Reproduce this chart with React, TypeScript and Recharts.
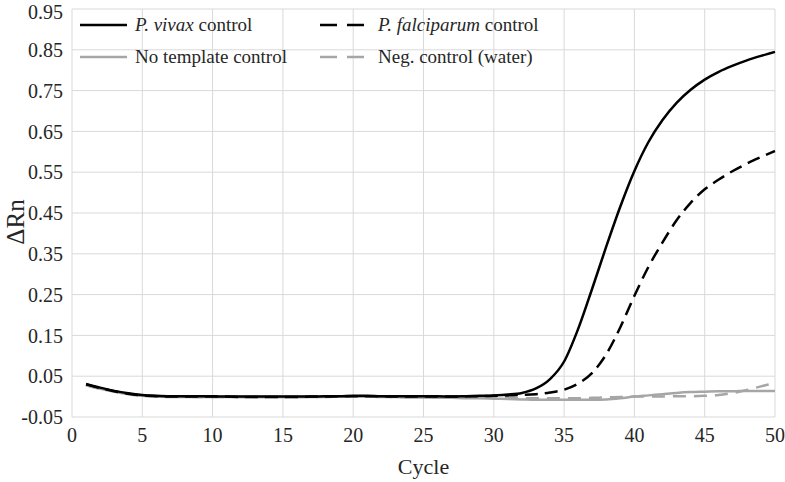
import { LineChart, Line, XAxis, YAxis, CartesianGrid, Legend } from 'recharts'

const cycles = [
  1, 2, 3, 4, 5, 6, 7, 8, 9, 10, 11, 12, 13, 14, 15, 16, 17, 18, 19, 20, 21, 22, 23, 24, 25,
  26, 27, 28, 29, 30, 31, 32, 33, 34, 35, 36, 37, 38, 39, 40, 41, 42, 43, 44, 45, 46, 47, 48, 49, 50,
]

const vivax = [
  0.031, 0.022, 0.014, 0.008, 0.004, 0.002, 0.001, 0.001, 0.001, 0.001, 0.0, 0.0, 0.0, 0.0, 0.0,
  0.0, 0.0, 0.001, 0.001, 0.002, 0.002, 0.001, 0.001, 0.001, 0.001, 0.001, 0.0, 0.001, 0.002, 0.003,
  0.005, 0.009, 0.02, 0.043, 0.086, 0.166, 0.265, 0.368, 0.466, 0.553, 0.624, 0.678, 0.72, 0.752, 0.777,
  0.796, 0.811, 0.824, 0.835, 0.845,
]

const falciparum = [
  0.03, 0.021, 0.013, 0.007, 0.003, 0.001, 0.0, 0.0, 0.0, 0.0, 0.0, -0.001, -0.001, -0.001, -0.001,
  -0.001, 0.0, 0.0, 0.001, 0.001, 0.001, 0.001, 0.0, 0.0, 0.0, 0.0, 0.0, 0.001, 0.001, 0.002,
  0.003, 0.004, 0.006, 0.01, 0.017, 0.032, 0.058, 0.104, 0.17, 0.247, 0.318, 0.378, 0.432, 0.475, 0.508,
  0.532, 0.553, 0.571, 0.587, 0.602,
]

const noTemplate = [
  0.028, 0.019, 0.012, 0.006, 0.002, 0.0, -0.001, -0.001, -0.001, -0.001, -0.001, -0.001, -0.001, -0.001, -0.001,
  -0.001, -0.001, -0.001, 0.0, 0.0, 0.0, -0.001, -0.001, -0.002, -0.002, -0.003, -0.003, -0.004, -0.004, -0.005,
  -0.006, -0.007, -0.008, -0.008, -0.008, -0.008, -0.008, -0.007, -0.004, 0.0, 0.003, 0.006, 0.009, 0.011, 0.012,
  0.013, 0.013, 0.014, 0.014, 0.014,
]

const negWater = [
  0.029, 0.02, 0.013, 0.007, 0.003, 0.001, 0.0, 0.0, -0.001, -0.001, -0.001, -0.001, -0.001, -0.001, -0.001,
  -0.001, -0.001, 0.0, 0.0, 0.0, 0.0, 0.0, -0.001, -0.001, -0.001, -0.002, -0.002, -0.002, -0.003, -0.003,
  -0.003, -0.004, -0.004, -0.004, -0.004, -0.004, -0.003, -0.002, -0.001, 0.0, 0.0, 0.0, 0.001, 0.001, 0.002,
  0.004, 0.009, 0.016, 0.025, 0.034,
]

const xTicks = [0, 5, 10, 15, 20, 25, 30, 35, 40, 45, 50]
const yTicks = [-0.05, 0.05, 0.15, 0.25, 0.35, 0.45, 0.55, 0.65, 0.75, 0.85, 0.95]

const legendItems = [
  { italic: 'P. vivax', rest: ' control', color: '#000', dash: undefined },
  { italic: 'P. falciparum', rest: ' control', color: '#000', dash: '17 10' },
  { italic: '', rest: 'No template control', color: '#a6a6a6', dash: undefined },
  { italic: '', rest: 'Neg. control (water)', color: '#a6a6a6', dash: '17 10' },
]

const data = cycles.map((c, i) => ({
  cycle: c,
  vivax: vivax[i],
  falciparum: falciparum[i],
  noTemplate: noTemplate[i],
  negWater: negWater[i],
}))

const FONT = 'Liberation Serif, Tinos, Times New Roman, DejaVu Serif, serif'
const TEXT = '#262626'

const LegendBox = () => (
  <div style={{ position: 'relative', width: 785, height: 80, fontFamily: FONT, fontSize: 19, color: TEXT }}>
    {legendItems.map((it, i) => (
      <div
        key={i}
        style={{
          position: 'absolute',
          left: 80 + (i % 2) * 240,
          top: 14 + Math.floor(i / 2) * 32,
          height: 22,
          display: 'flex',
          alignItems: 'center',
          whiteSpace: 'nowrap',
        }}
      >
        <svg width={47} height={22} style={{ marginRight: i % 2 ? 11 : 8 }}>
          <line x1={0} x2={47} y1={11} y2={11} stroke={it.color} strokeWidth={2.5} strokeDasharray={it.dash} />
        </svg>
        <span>
          {it.italic && <i>{it.italic}</i>}
          {it.rest}
        </span>
      </div>
    ))}
  </div>
)

// rotated y title, a bit below the plot centre like the original
const YTitle = ({ viewBox }: any) => {
  const cx = 15
  const cy = viewBox.y + viewBox.height / 2 + 9
  return (
    <text
      x={cx}
      y={cy}
      transform={`rotate(-90, ${cx}, ${cy})`}
      textAnchor="middle"
      dominantBaseline="central"
      fill={TEXT}
      fontSize={25}
      fontFamily={FONT}
    >
      ΔRn
    </text>
  )
}

export default function App() {
  return (
    <div style={{ position: 'absolute', left: 0, top: 0, width: 785, height: 482, background: '#fff', fontFamily: FONT }}>
      <LineChart width={785} height={482} data={data} margin={{ top: 9, right: 10, bottom: 0, left: 0 }} style={{ fontFamily: FONT }}>
        <CartesianGrid stroke="#d9d9d9" strokeWidth={1} />
        <XAxis
          dataKey="cycle"
          type="number"
          domain={[0, 50]}
          ticks={xTicks}
          height={65}
          axisLine={false}
          tickLine={false}
          tickSize={0}
          tickMargin={11}
          tick={{ fill: TEXT, fontSize: 20, fontFamily: FONT }}
          label={{ value: 'Cycle', position: 'insideBottom', offset: 8, fill: TEXT, fontSize: 22, fontFamily: FONT }}
        />
        <YAxis
          type="number"
          domain={[-0.05, 0.95]}
          ticks={yTicks}
          width={72}
          axisLine={false}
          tickLine={false}
          tickSize={0}
          tickMargin={9}
          tickFormatter={(v: number) => v.toFixed(2)}
          tick={{ fill: TEXT, fontSize: 20, fontFamily: FONT }}
          label={{ content: YTitle }}
        />
        <Legend
          layout="vertical"
          align="center"
          verticalAlign="middle"
          wrapperStyle={{ top: 0, left: 0, width: 785, height: 80 }}
          content={() => <LegendBox />}
        />
        <Line type="monotone" dataKey="noTemplate" stroke="#a6a6a6" strokeWidth={2.5} dot={false} isAnimationActive={false} />
        <Line type="monotone" dataKey="negWater" stroke="#a6a6a6" strokeWidth={2.5} strokeDasharray="13 8" dot={false} isAnimationActive={false} />
        <Line type="monotone" dataKey="falciparum" stroke="#000" strokeWidth={2.5} strokeDasharray="13 7" dot={false} isAnimationActive={false} />
        <Line type="monotone" dataKey="vivax" stroke="#000" strokeWidth={2.5} dot={false} isAnimationActive={false} />
      </LineChart>
    </div>
  )
}
